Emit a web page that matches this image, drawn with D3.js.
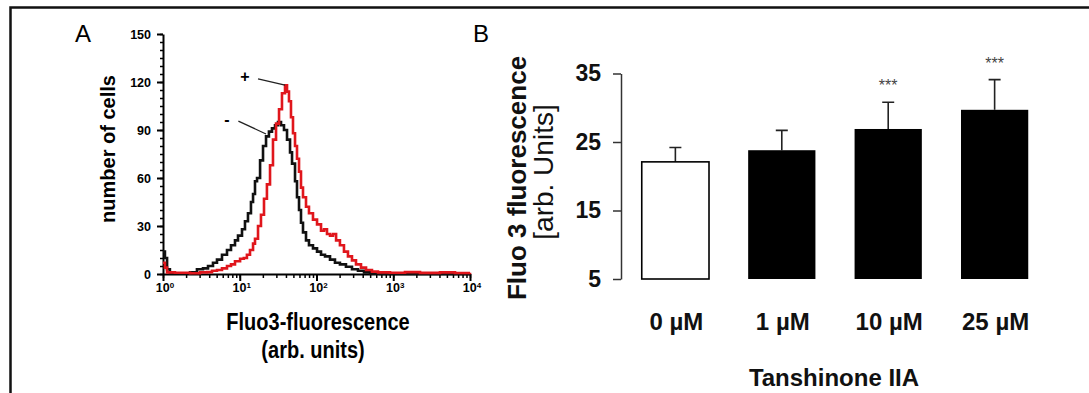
<!DOCTYPE html>
<html>
<head>
<meta charset="utf-8">
<script src="https://cdn.jsdelivr.net/npm/d3@7"></script>
<style>
body { margin: 0; background: #fff; }
text { font-family: "Liberation Sans", Arial, sans-serif; }
</style>
</head>
<body>
<div id="chart"></div>
<script>
// Panel A - flow cytometry histograms (fluorescence in arb. units, number of cells)
var fluoControl = [1.00, 1.06, 1.13, 1.23, 1.67, 2.25, 2.77, 3.32, 3.86, 4.48,
    5.05, 5.87, 6.82, 7.69, 8.67, 9.49, 10.7, 11.7, 12.8, 14.0,
    14.9, 15.8, 16.8, 18.4, 20.1, 22.0, 24.0, 26.3, 28.8, 31.5,
    34.5, 37.7, 41.3, 45.2, 48.0, 52.5, 55.7, 59.2, 62.8, 66.7,
    73.0, 79.8, 90.0, 101.6, 114.5, 129.1, 150, 174, 202, 242,
    290, 347, 416, 498, 672, 10000];
var cellsControl = [14, 10, 3, 0.5, 0.3, 1, 3, 3.5, 5, 7,
    9, 12, 15, 18, 21, 24, 28, 33, 38, 45,
    50, 58, 60, 71, 80, 86, 89, 91, 93, 95,
    93, 90, 84, 76, 69, 58, 48, 40, 32, 26,
    21, 18, 16, 14, 12, 11, 9, 7, 6, 4.5,
    3, 2, 1, 0.3, 0, 0];

var fluoTreated = [1.00, 1.06, 1.13, 1.43, 2.25, 3.03, 3.74, 4.35, 5.05, 5.87,
    6.82, 7.69, 8.67, 10.1, 11.3, 12.4, 13.6, 14.9, 15.8, 17.3,
    18.9, 20.7, 22.6, 24.8, 27.1, 29.7, 32.5, 35.5, 38.9, 41.3,
    43.8, 46.5, 49.4, 52.5, 55.7, 59.2, 62.8, 66.7, 73.0, 79.8,
    90.0, 101.6, 114.5, 125.3, 137, 150, 164, 180, 202, 228,
    257, 290, 327, 380, 442, 528, 633, 907, 1422, 2233,
    4064, 6377, 10000];
var cellsTreated = [7, 4, 1, 0.8, 0.5, 1, 1.2, 2, 2.5, 3.5,
    5, 6, 8, 9.5, 10, 12, 15, 19, 22, 30,
    37, 47, 56, 68, 84, 94, 103, 113, 118, 114,
    108, 98, 88, 80, 72, 64, 54, 48, 42, 38,
    34, 31, 27, 28, 25, 24, 25, 21, 18, 14,
    11, 8.5, 6, 4, 2.5, 1.5, 1, 0.8, 1.2, 0.7,
    1, 0.6, 0.8];

var decadeTicks = [1, 10, 100, 1000, 10000];
var decadeExp = ["0", "1", "2", "3", "4"];
var cellTicks = [0, 30, 60, 90, 120, 150];

// annotation "+" / "-" : [label fluo, label cells, line start fluo, cells, line end fluo, cells]
var markLabels = ["+", "-"];
var markPos = [[11.7, 124, 17.3, 122, 38.9, 118], [6.8, 97, 9.6, 95.6, 22.0, 87.5]];

// Panel B - Fluo 3 fluorescence vs Tanshinone IIA
var doses = ["0 µM", "1 µM", "10 µM", "25 µM"];
var meanFluo = [22.1, 23.8, 26.9, 29.7];
var semFluo = [2.1, 2.9, 3.9, 4.4];
var signif = ["", "", "***", "***"];
var fluoTicks = [5, 15, 25, 35];

var svgWidth = 1089;
var svgHeight = 393;

var svg = d3.select("#chart")
    .append("svg")
    .attr("width", svgWidth)
    .attr("height", svgHeight);

// outer frame
svg.append("rect")
    .attr("x", 10.5).attr("y", 7.5)
    .attr("width", 1100).attr("height", 420)
    .attr("fill", "none")
    .attr("stroke", "#111")
    .attr("stroke-width", 2.5);

// ---------- Panel A ----------
var xA = d3.scaleLog().domain([1, 10000]).range([163, 470]);
var yA = d3.scaleLinear().domain([0, 150]).range([274, 34]);

var gA = svg.append("g");

// minor ticks
gA.append("g")
    .attr("transform", "translate(0,274)")
    .call(d3.axisBottom(xA).tickValues(xA.ticks()).tickSize(4).tickFormat(""))
    .call(g => g.select(".domain").remove())
    .selectAll("line").attr("stroke-width", 1.5);
gA.append("g")
    .attr("transform", "translate(163,0)")
    .call(d3.axisLeft(yA).tickValues(d3.range(0, 151, 5)).tickSize(3).tickFormat(""))
    .call(g => g.select(".domain").remove())
    .selectAll("line").attr("stroke-width", 1.5);

// major ticks + domain
var xAxisA = gA.append("g")
    .attr("transform", "translate(0,274)")
    .call(d3.axisBottom(xA).tickValues(decadeTicks).tickSize(7).tickSizeOuter(0).tickFormat(""));
xAxisA.select(".domain").attr("stroke-width", 2);
xAxisA.selectAll("line").attr("stroke-width", 2);

var yAxisA = gA.append("g")
    .attr("transform", "translate(163,0)")
    .call(d3.axisLeft(yA).tickValues(cellTicks).tickSize(6).tickSizeOuter(0).tickPadding(6));
yAxisA.select(".domain").attr("stroke-width", 2);
yAxisA.selectAll("line").attr("stroke-width", 2);
yAxisA.selectAll("text")
    .attr("font-size", "12.5px")
    .attr("font-weight", "bold")
    .attr("font-family", "Liberation Sans, Arial, sans-serif");

// decade labels 10^n
var decLabels = gA.selectAll(".declabel")
    .data(decadeTicks)
    .enter()
    .append("text")
    .attr("class", "declabel")
    .attr("x", d => xA(d) + 2)
    .attr("y", 292)
    .attr("text-anchor", "middle")
    .attr("font-size", "12.5px")
    .attr("font-weight", "bold");
decLabels.append("tspan").text("10");
decLabels.append("tspan")
    .attr("dy", -4)
    .attr("font-size", "8px")
    .text((d, i) => decadeExp[i]);

// histograms
var histLine = d3.line()
    .x(d => xA(d[0]))
    .y(d => yA(d[1]))
    .curve(d3.curveStepAfter);

gA.append("path")
    .datum(fluoControl.map((f, i) => [f, cellsControl[i]]))
    .attr("d", histLine)
    .attr("fill", "none")
    .attr("stroke", "#111")
    .attr("stroke-width", 2.6);

gA.append("path")
    .datum(fluoTreated.map((f, i) => [f, cellsTreated[i]]))
    .attr("d", histLine)
    .attr("fill", "none")
    .attr("stroke", "#e0161c")
    .attr("stroke-width", 2.6);

// + / - annotations
markPos.forEach((m, i) => {
    gA.append("text")
        .attr("x", xA(m[0]))
        .attr("y", yA(m[1]) + 6)
        .attr("text-anchor", "middle")
        .attr("font-size", "16px")
        .attr("font-weight", "bold")
        .text(markLabels[i]);
    gA.append("line")
        .attr("x1", xA(m[2])).attr("y1", yA(m[3]))
        .attr("x2", xA(m[4])).attr("y2", yA(m[5]))
        .attr("stroke", "#222")
        .attr("stroke-width", 1.3);
});

// axis titles
gA.append("text")
    .attr("transform", "translate(115,149) rotate(-90)")
    .attr("text-anchor", "middle")
    .attr("font-size", "20px")
    .attr("font-weight", "bold")
    .text("number of cells");
gA.append("text")
    .attr("transform", "translate(318,330) scale(1,1.15)")
    .attr("text-anchor", "middle")
    .attr("font-size", "20px")
    .attr("font-weight", "bold")
    .text("Fluo3-fluorescence");
gA.append("text")
    .attr("transform", "translate(313,358) scale(1,1.15)")
    .attr("text-anchor", "middle")
    .attr("font-size", "20px")
    .attr("font-weight", "bold")
    .text("(arb. units)");

svg.append("text")
    .attr("x", 75).attr("y", 42)
    .attr("font-size", "24px")
    .text("A");

// ---------- Panel B ----------
var xB = d3.scaleBand()
    .domain(doses)
    .range([621, 1049])
    .paddingInner(0.368)
    .paddingOuter(0.195);
var yB = d3.scaleLinear().domain([5, 35]).range([279, 73.5]);

var gB = svg.append("g");

var yAxisB = gB.append("g")
    .attr("transform", "translate(621,0)")
    .call(d3.axisLeft(yB).tickValues(fluoTicks).tickSize(8).tickSizeOuter(0).tickPadding(12));
yAxisB.select(".domain").attr("stroke", "#333").attr("stroke-width", 1.5);
yAxisB.selectAll("line").attr("stroke", "#333").attr("stroke-width", 1.5);
yAxisB.selectAll("text")
    .attr("font-size", "23px")
    .attr("font-weight", "bold")
    .attr("fill", "#111")
    .attr("font-family", "Liberation Sans, Arial, sans-serif");

// error bars (upper only)
gB.selectAll(".err")
    .data(doses)
    .enter()
    .append("path")
    .attr("class", "err")
    .attr("d", (d, i) => {
        var cx = xB(d) + xB.bandwidth() / 2;
        var top = yB(meanFluo[i] + semFluo[i]);
        return "M" + cx + "," + yB(meanFluo[i]) + "V" + top + "M" + (cx - 6) + "," + top + "H" + (cx + 6);
    })
    .attr("fill", "none")
    .attr("stroke", "#222")
    .attr("stroke-width", 1.6);

gB.selectAll(".bar")
    .data(doses)
    .enter()
    .append("rect")
    .attr("class", "bar")
    .attr("x", d => xB(d))
    .attr("y", (d, i) => yB(meanFluo[i]))
    .attr("width", xB.bandwidth())
    .attr("height", (d, i) => yB(5) - yB(meanFluo[i]))
    .attr("fill", (d, i) => i === 0 ? "#fff" : "#000")
    .attr("stroke", "#000")
    .attr("stroke-width", (d, i) => i === 0 ? 1.6 : 0);

gB.selectAll(".star")
    .data(doses)
    .enter()
    .append("text")
    .attr("class", "star")
    .attr("x", d => xB(d) + xB.bandwidth() / 2)
    .attr("y", (d, i) => yB(meanFluo[i] + semFluo[i]) - 11)
    .attr("text-anchor", "middle")
    .attr("font-size", "16px")
    .attr("fill", "#444")
    .text((d, i) => signif[i]);

gB.selectAll(".dose")
    .data(doses)
    .enter()
    .append("text")
    .attr("class", "dose")
    .attr("x", d => xB(d) + xB.bandwidth() / 2 + 1)
    .attr("y", 330)
    .attr("text-anchor", "middle")
    .attr("font-size", "24px")
    .attr("font-weight", "bold")
    .attr("fill", "#111")
    .text(d => d);

gB.append("text")
    .attr("x", 834).attr("y", 386)
    .attr("text-anchor", "middle")
    .attr("font-size", "24px")
    .attr("font-weight", "bold")
    .attr("fill", "#111")
    .text("Tanshinone IIA");

gB.append("text")
    .attr("transform", "translate(526,178) rotate(-90)")
    .attr("text-anchor", "middle")
    .attr("font-size", "26px")
    .attr("font-weight", "bold")
    .attr("fill", "#111")
    .text("Fluo 3 fluorescence");
gB.append("text")
    .attr("transform", "translate(553,172) rotate(-90)")
    .attr("text-anchor", "middle")
    .attr("font-size", "28px")
    .attr("fill", "#111")
    .text("[arb. Units]");

svg.append("text")
    .attr("x", 473).attr("y", 42)
    .attr("font-size", "24px")
    .text("B");
</script>
</body>
</html>
